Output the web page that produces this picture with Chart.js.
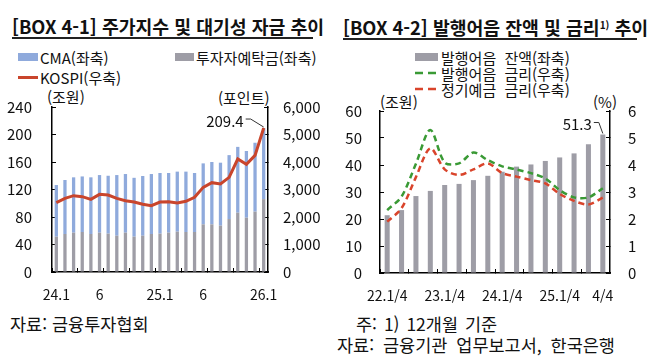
<!DOCTYPE html>
<html lang="ko">
<head>
<meta charset="utf-8">
<script src="https://cdn.jsdelivr.net/npm/chart.js@4.4.1/dist/chart.umd.min.js"></script>
<style>
  body { margin: 0; width: 648px; height: 362px; background: #fff; position: relative; overflow: hidden;
         font-family: 'Noto Sans CJK KR', 'Noto Sans', sans-serif; color: #111; }
  .t { position: absolute; white-space: nowrap; line-height: 1; transform: translateY(-50%); }
  .title { font-size: 18.3px; font-weight: bold; }
  .rule { position: absolute; height: 2px; background: #222; }
  .leg { font-size: 15px; }
  .note { font-size: 17.5px; }
  .sw { position: absolute; }
  .box { position: absolute; }
</style>
</head>
<body>

<!-- left panel -->
<div class="t title" style="left:12px; top:26px;">[BOX 4-1] 주가지수 및 대기성 자금 추이</div>
<div class="rule" style="left:12px; top:37px; width:301px;"></div>
<div class="sw" style="left:18px; top:53px; width:20px; height:8px; background:#8faadc;"></div>
<div class="t leg" style="left:40px; top:57px;">CMA(좌축)</div>
<div class="sw" style="left:175px; top:53px; width:19px; height:8px; background:#9e9da6;"></div>
<div class="t leg" style="left:196px; top:57px;">투자자예탁금(좌축)</div>
<div class="sw" style="left:18px; top:76px; width:20px; height:3px; background:#c9452c;"></div>
<div class="t leg" style="left:40px; top:77px;">KOSPI(우축)</div>
<div class="t leg" style="left:47px; top:96px;">(조원)</div>
<div class="t leg" style="left:218px; top:97px;">(포인트)</div>
<div class="box" style="left:0; top:90px;"><canvas id="c1" width="324" height="220"></canvas></div>
<div class="t note" style="left:10px; top:324px;">자료: 금융투자협회</div>

<!-- right panel -->
<div class="t title" style="left:343px; top:27px;">[BOX 4-2] 발행어음 잔액 및 금리<span style="font-size:10px; vertical-align:6px;">1)</span> 추이</div>
<div class="rule" style="left:343px; top:38px; width:294px;"></div>
<div class="sw" style="left:415px; top:53px; width:23px; height:8px; background:#9e9da6;"></div>
<div class="t leg" style="left:441px; top:57px; word-spacing:4px;">발행어음 잔액(좌축)</div>
<svg class="sw" style="left:415px; top:71px;" width="24" height="4"><line x1="0" y1="2" x2="24" y2="2" stroke="#3a9a35" stroke-width="2.5" stroke-dasharray="8,5"/></svg>
<div class="t leg" style="left:441px; top:73px; word-spacing:4px;">발행어음 금리(우축)</div>
<svg class="sw" style="left:415px; top:87px;" width="24" height="4"><line x1="0" y1="2" x2="24" y2="2" stroke="#d9442b" stroke-width="2.5" stroke-dasharray="8,5"/></svg>
<div class="t leg" style="left:441px; top:89px; word-spacing:4px;">정기예금 금리(우축)</div>
<div class="t leg" style="left:380px; top:101px;">(조원)</div>
<div class="t leg" style="left:593px; top:101px;">(%)</div>
<div class="box" style="left:324px; top:90px;"><canvas id="c2" width="324" height="220"></canvas></div>
<div class="t note" style="left:356px; top:324px; word-spacing:2px;">주: 1) 12개월 기준</div>
<div class="t note" style="left:337px; top:345px; word-spacing:4px;">자료: 금융기관 업무보고서, 한국은행</div>

<script>
// [BOX 4-1] monthly, 24.1 ~ 26.1
const months = ['24.1', '', '', '', '', '6', '', '', '', '', '', '',
    '25.1', '', '', '', '', '6', '', '', '', '', '', '', '26.1'];
const deposits = [51.4, 55.3, 57.2, 58.2, 55.3, 57.2, 55.8, 52.8, 57.2, 51.4, 52.8, 55.3,
    55.8, 57.2, 58.7, 58.2, 58.2, 69.3, 69.3, 67.4, 77.0, 86.3, 79.0, 87.8, 106.0];
const cma = [75.1, 78.5, 80.5, 80.8, 82.4, 83.8, 84.2, 88.2, 85.3, 85.6, 86.8, 87.2,
    88.2, 86.8, 87.3, 87.8, 85.8, 88.7, 90.7, 91.6, 93.0, 95.7, 97.0, 100.2, 103.4];
const kospi = [2521, 2679, 2776, 2739, 2642, 2824, 2800, 2679, 2594, 2545, 2461, 2412,
    2545, 2558, 2509, 2570, 2715, 3079, 3248, 3200, 3442, 4109, 3915, 4242, 5236];

// [BOX 4-2] quarterly, 22.1/4 ~ 25.4/4
const quarters = ['22.1/4', '', '', '', '23.1/4', '', '', '', '24.1/4', '', '', '',
    '25.1/4', '', '', '4/4'];
const noteBalance = [21.4, 23.3, 28.5, 30.4, 32.6, 33.0, 34.4, 36.0, 37.5, 39.4, 40.2, 41.5,
    42.8, 44.3, 47.7, 51.3];
const noteRate = [2.33, 2.83, 4.05, 5.3, 4.09, 4.06, 4.46, 4.18, 3.95, 3.83, 3.70, 3.50,
    3.07, 2.80, 2.80, 3.14];
const depositRate = [1.90, 2.40, 3.55, 4.62, 3.84, 3.63, 3.84, 4.06, 3.70, 3.57, 3.44, 3.32,
    2.93, 2.67, 2.54, 2.79];

const BLUE = '#8faadc';
const GRAY = '#9e9da6';
const RED = '#c9452c';
const GREEN = '#3a9a35';
const RED2 = '#d9442b';

Chart.defaults.font.family = "'Noto Sans CJK KR', 'Noto Sans', sans-serif";
Chart.defaults.color = '#111';

const callout = {
    id: 'callout',
    afterDatasetsDraw(chart, args, opts) {
        const { ctx, scales } = chart;
        const x = scales.x.getPixelForValue(opts.index);
        const y = scales.y.getPixelForValue(opts.value);
        ctx.save();
        ctx.strokeStyle = '#333';
        ctx.lineWidth = 1;
        ctx.beginPath();
        ctx.moveTo(x - opts.dx, y - opts.dy);
        ctx.lineTo(x - opts.dx + 5, y - opts.dy);
        ctx.lineTo(x, y - 1);
        ctx.stroke();
        ctx.font = "15px 'Noto Sans CJK KR'";
        ctx.fillStyle = '#111';
        ctx.textAlign = 'right';
        ctx.textBaseline = 'middle';
        ctx.fillText(opts.text, x - opts.dx - 2, y - opts.dy + 2);
        ctx.restore();
    }
};

function axisGrid(every) {
    return {
        drawOnChartArea: false,
        tickLength: -4,
        tickWidth: 1,
        tickColor: every
            ? ctx => (ctx.index % every === 0 ? '#000' : 'rgba(0,0,0,0)')
            : '#000',
    };
}
const border = { color: '#000', width: 1.5 };

// fixed axis sizes, so the plot area lands where the original one is
const fixWidth = w => s => { s.width = w; s.paddingTop = 0; s.paddingBottom = 0; };

new Chart(document.getElementById('c1'), {
    data: {
        labels: months,
        datasets: [
            { type: 'bar', label: '투자자예탁금(좌축)', data: deposits, backgroundColor: GRAY,
              yAxisID: 'y', order: 1, barPercentage: 0.38, categoryPercentage: 1 },
            { type: 'bar', label: 'CMA(좌축)', data: cma, backgroundColor: BLUE,
              yAxisID: 'y', order: 1, barPercentage: 0.38, categoryPercentage: 1 },
            { type: 'line', label: 'KOSPI(우축)', data: kospi, borderColor: RED, borderWidth: 3,
              pointRadius: 0, tension: 0, yAxisID: 'y1', order: 0 },
        ]
    },
    options: {
        responsive: false,
        animation: false,
        layout: { padding: { top: 17 } },
        plugins: {
            legend: { display: false },
            tooltip: { enabled: false },
            callout: { index: 24, value: 209.4, text: '209.4', dx: 18, dy: 9 },
        },
        scales: {
            x: {
                stacked: true,
                grid: axisGrid(3),
                border,
                ticks: { autoSkip: false, maxRotation: 0, padding: 18, font: { size: 14 } },
                afterFit: s => { s.height = 38; },
            },
            y: {
                stacked: true, min: 0, max: 240,
                grid: axisGrid(),
                border,
                ticks: { stepSize: 40, padding: 24, font: { size: 15 } },
                afterFit: fixWidth(52),
            },
            y1: {
                position: 'right', min: 0, max: 6000,
                grid: axisGrid(),
                border,
                ticks: { stepSize: 1000, padding: 19, font: { size: 15 },
                         callback: v => v.toLocaleString('en-US') },
                afterFit: fixWidth(56),
            },
        }
    },
    plugins: [callout]
});

new Chart(document.getElementById('c2'), {
    data: {
        labels: quarters,
        datasets: [
            { type: 'line', label: '발행어음 금리(우축)', data: noteRate, borderColor: GREEN, borderWidth: 2.5,
              borderDash: [6, 4], pointRadius: 0, tension: 0.3, yAxisID: 'y1', order: 0 },
            { type: 'line', label: '정기예금 금리(우축)', data: depositRate, borderColor: RED2, borderWidth: 2.5,
              borderDash: [6, 4], pointRadius: 0, tension: 0.3, yAxisID: 'y1', order: 0 },
            { type: 'bar', label: '발행어음 잔액(좌축)', data: noteBalance, backgroundColor: GRAY,
              yAxisID: 'y', order: 1, barPercentage: 0.35, categoryPercentage: 1 },
        ]
    },
    options: {
        responsive: false,
        animation: false,
        layout: { padding: { top: 21 } },
        plugins: {
            legend: { display: false },
            tooltip: { enabled: false },
            callout: { index: 15, value: 51.3, text: '51.3', dx: 9, dy: 12 },
        },
        scales: {
            x: {
                grid: axisGrid(2),
                border,
                ticks: { autoSkip: false, maxRotation: 0, padding: 18, font: { size: 14 } },
                afterFit: s => { s.height = 37; },
            },
            y: {
                min: 0, max: 60,
                grid: axisGrid(),
                border,
                ticks: { stepSize: 10, padding: 22, font: { size: 15 } },
                afterFit: fixWidth(56),
            },
            y1: {
                position: 'right', min: 0, max: 6,
                grid: axisGrid(),
                border,
                ticks: { stepSize: 1, padding: 22, font: { size: 15 } },
                afterFit: fixWidth(38),
            },
        }
    },
    plugins: [callout]
});
</script>
</body>
</html>
